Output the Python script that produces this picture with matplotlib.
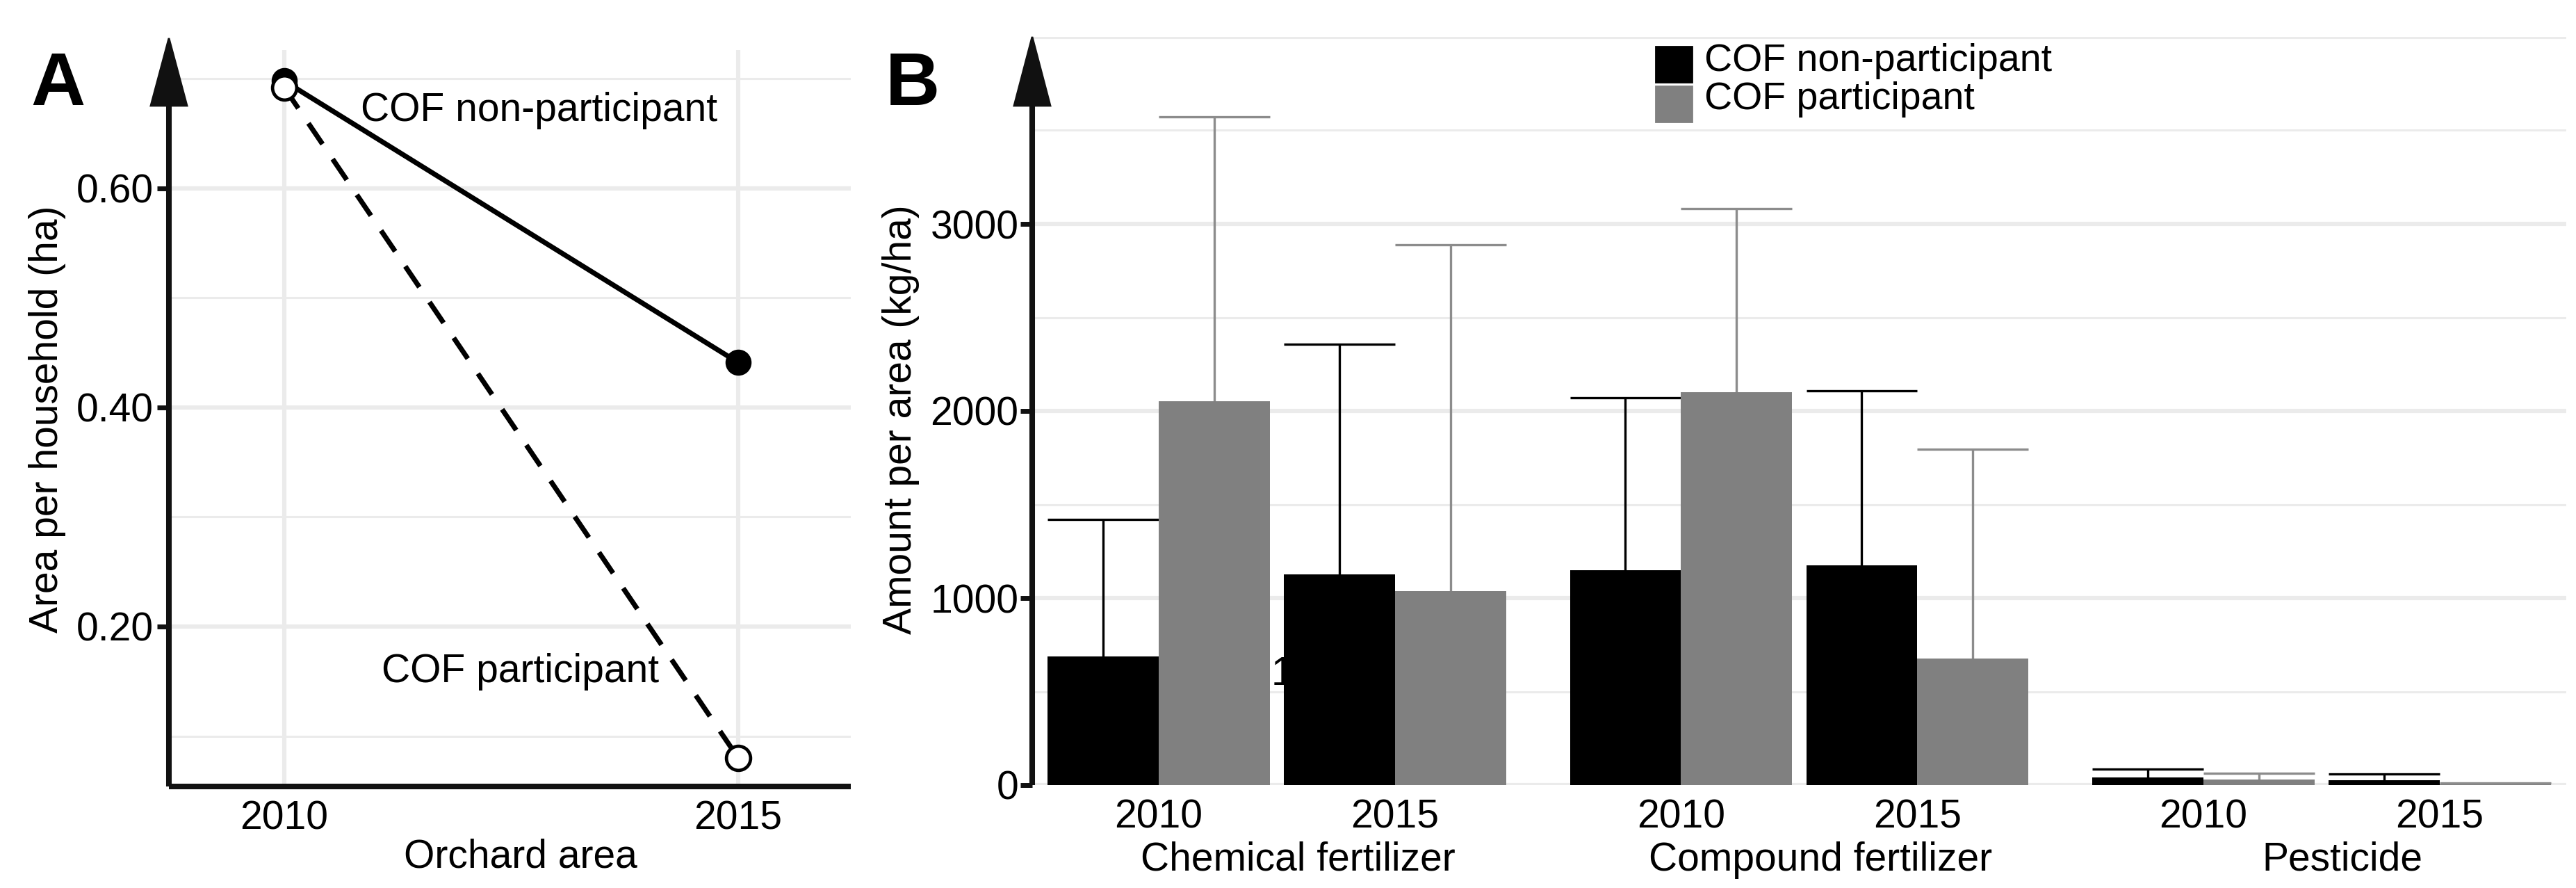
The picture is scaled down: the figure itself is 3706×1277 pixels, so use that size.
import numpy as np
import matplotlib
matplotlib.use("Agg")
import matplotlib.pyplot as plt
from matplotlib.patches import Polygon, Rectangle
from matplotlib.transforms import blended_transform_factory

plt.rcParams["font.family"] = ["Liberation Sans", "DejaVu Sans"]

# 데이터 - A: 과수원 면적
years = [2010, 2015]
area_non = [0.698, 0.441]
area_part = [0.692, 0.080]

# 데이터 - B: 단위면적당 투입량 (평균 + 위쪽 표준편차)
groups = ["Chemical fertilizer", "Compound fertilizer", "Pesticide"]
year_labels = ["2010", "2015"]
mean_non = [686, 1125, 1149, 1176, 40, 25]
sd_non = [735, 1231, 922, 930, 45, 35]
mean_part = [2053, 1037, 2102, 676, 30, 5]
sd_part = [1521, 1851, 979, 1121, 35, 5]

W, H = 3706, 1277
DPI = 200
fig = plt.figure(figsize=(W / DPI, H / DPI), dpi=DPI)

GRID = "#EBEBEB"
AXC = "#111111"
FS = 20.5


def fx(px):
    return px / W


def fy(py):
    return 1 - py / H


def draw_axis_arrow(ax, head_base, half_w, with_x=False):
    # ggplot 스타일 화살표 축...
    ax.plot([0, 0], [0, head_base], transform=ax.transAxes, color=AXC,
            lw=2.9, clip_on=False, solid_capstyle="butt", zorder=5)
    tri = Polygon([[-half_w, head_base], [half_w, head_base], [0, 1]],
                  closed=True, transform=ax.transAxes, color=AXC,
                  clip_on=False, zorder=5)
    ax.add_patch(tri)
    if with_x:
        ax.plot([0, 1], [0, 0], transform=ax.transAxes, color=AXC,
                lw=2.9, clip_on=False, solid_capstyle="butt", zorder=5)


# ---------- A ----------
axA = fig.add_axes([fx(243), fy(1131), fx(1224) - fx(243), fy(55) - fy(1131)])
axA.set_xlim(2008.73, 2016.24)
axA.set_ylim(0.054, 0.737)
for s in axA.spines.values():
    s.set_visible(False)

for v in [0.2, 0.4, 0.6]:
    axA.axhline(v, color=GRID, lw=2.2, zorder=0)
for v in [0.1, 0.3, 0.5, 0.7]:
    axA.axhline(v, color=GRID, lw=1.1, zorder=0)
axA.vlines(years, 0.054, 0.726, color=GRID, lw=2.2, zorder=0)

axA.plot(years, area_non, color="black", lw=2.6, marker="o", ms=12.5,
         mfc="black", mec="black", zorder=3)
axA.plot(years, area_part, color="black", lw=2.6, ls=(0, (5, 3.6)),
         marker="o", ms=12.5, mfc="white", mec="black", mew=1.7, zorder=3)

axA.text(2012.81, 0.671, "COF non-participant", ha="center", va="center", fontsize=FS)
axA.text(2012.6, 0.159, "COF participant", ha="center", va="center", fontsize=FS)

axA.set_yticks([0.2, 0.4, 0.6])
axA.set_yticklabels(["0.20", "0.40", "0.60"])
axA.set_xticks(years)
axA.set_xticklabels(["2010", "2015"])
axA.tick_params(axis="y", length=6, width=2.5, color=AXC, pad=2, labelsize=FS)
axA.tick_params(axis="x", length=0, pad=7, labelsize=FS)
draw_axis_arrow(axA, (1131 - 152) / 1076, 26 / 981, with_x=True)

fig.text(fx(68), fy(603), "Area per household (ha)", rotation=90,
         ha="center", va="center", fontsize=FS)
fig.text(fx(749), fy(1233), "Orchard area", ha="center", va="center", fontsize=FS)
fig.text(fx(44), fy(151), "A", fontsize=39, fontweight="bold", ha="left", va="baseline")

# ---------- B ----------
axB = fig.add_axes([fx(1485), fy(1129), fx(3692) - fx(1485), fy(53) - fy(1129)])
for s in axB.spines.values():
    s.set_visible(False)

gstep = 2.21
bw = 0.47
pos = np.array([g * gstep + i for g in range(len(groups)) for i in range(len(year_labels))])
axB.set_xlim(-0.535, pos[-1] + 0.536)
axB.set_ylim(0, 4000)

for v in [0, 1000, 2000, 3000, 4000]:
    axB.axhline(v, color=GRID, lw=2.2, zorder=0)
for v in [500, 1500, 2500, 3500]:
    axB.axhline(v, color=GRID, lw=1.1, zorder=0)

x_non = pos - bw / 2
x_part = pos + bw / 2
up_non = np.array(mean_non) + np.array(sd_non)
up_part = np.array(mean_part) + np.array(sd_part)

axB.vlines(x_non, mean_non, up_non, color="black", lw=1.2, zorder=1.5)
axB.hlines(up_non, x_non - bw / 2, x_non + bw / 2, color="black", lw=1.2, zorder=1.5)
axB.vlines(x_part, mean_part, up_part, color="#8C8C8C", lw=1.2, zorder=1.5)
axB.hlines(up_part, x_part - bw / 2, x_part + bw / 2, color="#8C8C8C", lw=1.2, zorder=1.5)

# 뒤에 가려진 "1" 글자 흔적...
axB.text(0.475, 535, "1", fontsize=FS, ha="left", va="baseline", zorder=1)

axB.bar(x_non, mean_non, width=bw, color="black", zorder=2)
axB.bar(x_part, mean_part, width=bw, color="#808080", zorder=2)

axB.set_yticks([0, 1000, 2000, 3000])
axB.set_xticks(pos)
axB.set_xticklabels(year_labels * len(groups))
axB.tick_params(axis="y", length=6, width=2.5, color=AXC, pad=1, labelsize=FS)
axB.tick_params(axis="x", length=0, pad=7, labelsize=FS)
draw_axis_arrow(axB, (1129 - 152) / 1076, 26 / 2207)

trans = blended_transform_factory(axB.transData, axB.transAxes)
for g, name in enumerate(groups):
    axB.text(g * gstep + 0.5 + 0.09, -0.1, name, transform=trans,
             ha="center", va="center", fontsize=FS)

fig.text(fx(1296), fy(603), "Amount per area (kg/ha)", rotation=90,
         ha="center", va="center", fontsize=FS)
fig.text(fx(1274), fy(151), "B", fontsize=39, fontweight="bold", ha="left", va="baseline")

# 범례 - 직접 그림
fig.patches.append(Rectangle((fx(2382), fy(118)), fx(52), 51 / H, color="black",
                             transform=fig.transFigure, figure=fig))
fig.patches.append(Rectangle((fx(2382), fy(175)), fx(52), 51 / H, color="#808080",
                             transform=fig.transFigure, figure=fig))
fig.text(fx(2452), fy(88), "COF non-participant", ha="left", va="center", fontsize=20)
fig.text(fx(2452), fy(143), "COF participant", ha="left", va="center", fontsize=20)

fig.savefig("out.png", dpi=DPI)
